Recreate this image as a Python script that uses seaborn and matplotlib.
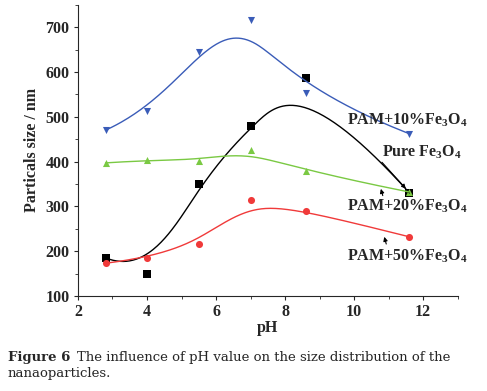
import numpy as np
import seaborn as sns
import matplotlib.pyplot as plt
from matplotlib.ticker import MultipleLocator

# values
ph = [2.8, 4.0, 5.5, 7.0, 8.6, 11.6]
pam10 = [470, 512, 645, 715, 552, 462]
pure = [185, 148, 350, 480, 587, 330]
pam20 = [397, 403, 402, 425, 378, 332]
pam50 = [173, 185, 217, 315, 290, 232]

series = {
    "PAM+10%": (pam10, "#3a5cb8", "v"),
    "Pure": (pure, "black", "s"),
    "PAM+20%": (pam20, "#7ac943", "^"),
    "PAM+50%": (pam50, "#f03a3a", "o"),
}


def bspline(xs, ys, k=3, n=200):
    # clamped B-spline with the data points as control points (Origin style)
    m = len(xs)
    inner = np.linspace(0, 1, m - k + 1)
    t = np.concatenate([[0] * k, inner, [1] * k])
    u = np.linspace(0, 1, n)
    u[-1] = 1 - 1e-9

    def basis(i, p, u):
        if p == 0:
            return ((t[i] <= u) & (u < t[i + 1])).astype(float)
        a = 0.0 if t[i + p] == t[i] else (u - t[i]) / (t[i + p] - t[i]) * basis(i, p - 1, u)
        b = 0.0 if t[i + p + 1] == t[i + 1] else (t[i + p + 1] - u) / (t[i + p + 1] - t[i + 1]) * basis(i + 1, p - 1, u)
        return a + b

    B = np.array([basis(i, k, u) for i in range(m)])
    return B.T @ np.array(xs, float), B.T @ np.array(ys, float)


sns.set_style("ticks")
plt.rcParams["font.family"] = ["Liberation Serif", "DejaVu Serif"]
plt.rcParams["mathtext.fontset"] = "custom"
plt.rcParams["mathtext.rm"] = "Liberation Serif:bold"
plt.rcParams["mathtext.it"] = "Liberation Serif:bold"

fig = plt.figure(figsize=(4.87, 3.91), dpi=100)
ax = fig.add_axes([0.160, 0.243, 0.780, 0.745])

for name, (vals, col, mk) in series.items():
    cx, cy = bspline(ph, vals)
    sns.lineplot(x=cx, y=cy, sort=False, estimator=None, ax=ax, color=col, lw=1.0)
    sns.scatterplot(x=ph, y=vals, ax=ax, color=col, marker=mk, s=26, linewidth=0)

ax.set_xlim(2, 13)
ax.set_ylim(100, 750)
ax.set_xticks([2, 4, 6, 8, 10, 12])
ax.set_yticks([100, 200, 300, 400, 500, 600, 700])
ax.xaxis.set_minor_locator(MultipleLocator(1))
ax.yaxis.set_minor_locator(MultipleLocator(50))
ax.tick_params(which="major", length=3, width=0.8, labelsize=11.5, pad=3)
ax.tick_params(which="minor", length=2, width=0.6)
for lab in ax.get_xticklabels() + ax.get_yticklabels():
    lab.set_fontweight("bold")
sns.despine(ax=ax)
ax.set_xlabel("pH", fontsize=11.5, fontweight="bold", labelpad=0)
ax.set_ylabel("Particals size / nm", fontsize=11.5, fontweight="bold", labelpad=4)

kw = dict(fontsize=11.5, fontweight="bold")
ax.text(9.8, 482, "PAM+10%Fe$_3$O$_4$", **kw)
ax.text(10.8, 412, "Pure Fe$_3$O$_4$", **kw)
ax.text(9.8, 290, "PAM+20%Fe$_3$O$_4$", **kw)
ax.text(9.8, 180, "PAM+50%Fe$_3$O$_4$", **kw)
arr = dict(arrowstyle="-|>", color="black", lw=0.8, mutation_scale=6)
ax.annotate("", xy=(11.55, 335), xytext=(10.75, 403), arrowprops=arr)
ax.annotate("", xy=(10.75, 345), xytext=(10.85, 318), arrowprops=arr)
ax.annotate("", xy=(10.85, 238), xytext=(10.95, 210), arrowprops=arr)

cap = dict(fontsize=9.5, family=["DejaVu Serif"])
fig.text(0.016, 0.077, "Figure 6", fontweight="bold", **cap)
fig.text(0.158, 0.077, "The influence of pH value on the size distribution of the", **cap)
fig.text(0.016, 0.035, "nanaoparticles.", **cap)

fig.savefig("out.png", dpi=100)
